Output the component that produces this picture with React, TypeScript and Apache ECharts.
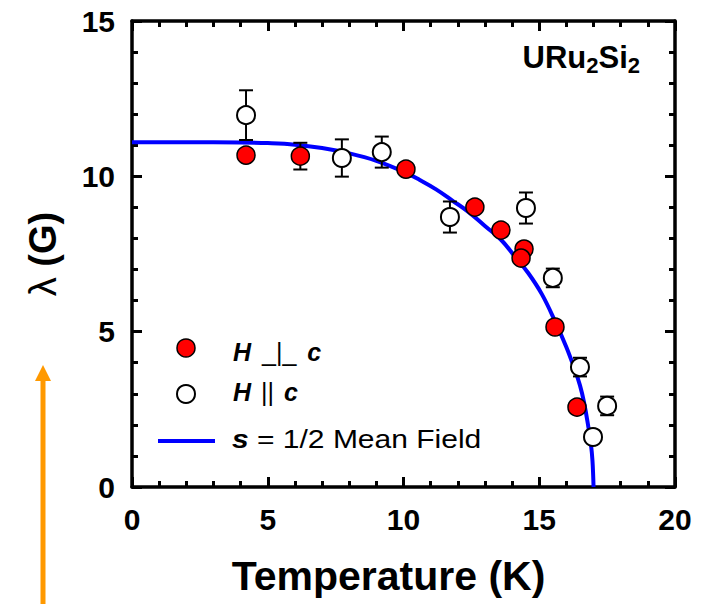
import React, { useEffect, useRef } from "react";
import * as echarts from "echarts";

// H perpendicular to c (filled red)
const perpT = [4.2, 6.2, 10.09, 12.63, 13.59, 14.44, 14.33, 15.58, 16.39];
const perpLambda = [10.68, 10.65, 10.23, 9.01, 8.27, 7.66, 7.37, 5.15, 2.57];
const perpErr = [0.1, 0.43, 0.1, 0.1, 0.1, 0.1, 0.1, 0.1, 0.1];

// H parallel to c (open)
const paraT = [4.2, 7.73, 9.2, 11.71, 14.51, 15.5, 16.5, 17.5, 16.98];
const paraLambda = [11.97, 10.59, 10.78, 8.69, 8.98, 6.73, 3.86, 2.61, 1.61];
const paraErr = [0.8, 0.6, 0.5, 0.5, 0.5, 0.3, 0.3, 0.3, 0.2];

// s = 1/2 mean field curve
const curveT = [0, 2, 4, 5, 6, 7, 8, 9, 10, 10.6, 11.2, 11.8, 12.4, 13.0, 13.6, 14.1, 14.6, 15.1, 15.6, 16.0, 16.3, 16.5, 16.65, 16.8, 16.9, 16.96, 17.0];
const curveLambda = [11.1, 11.1, 11.09, 11.07, 11.02, 10.91, 10.74, 10.5, 10.15, 9.88, 9.58, 9.22, 8.85, 8.4, 7.95, 7.42, 6.88, 6.2, 5.3, 4.5, 3.8, 3.27, 2.72, 1.98, 1.4, 0.85, 0];

const xTicks = { min: 0, max: 20, interval: 5 };
const yTicks = { min: 0, max: 15, interval: 5 };

const FONT = "'Liberation Sans', Arial, Helvetica, sans-serif";

export default function App() {
  const ref = useRef<HTMLDivElement>(null);
  useEffect(() => {
    if (!ref.current) return;
    const chart = echarts.init(ref.current, undefined, { renderer: "svg" });

    const errRender = (params: any, api: any) => {
      const x = api.value(0);
      const lo = api.value(1);
      const hi = api.value(2);
      const a = api.coord([x, lo]);
      const b = api.coord([x, hi]);
      const hw = 7;
      const st = { stroke: "#000", lineWidth: 2 };
      return {
        type: "group",
        children: [
          { type: "line", shape: { x1: a[0], y1: a[1], x2: b[0], y2: b[1] }, style: st },
          { type: "line", shape: { x1: a[0] - hw, y1: a[1], x2: a[0] + hw, y2: a[1] }, style: st },
          { type: "line", shape: { x1: b[0] - hw, y1: b[1], x2: b[0] + hw, y2: b[1] }, style: st },
        ],
      };
    };

    const axisCommon = {
      type: "value",
      axisLine: { show: true, onZero: false, lineStyle: { color: "#000", width: 3.5 } },
      axisTick: { show: true, inside: true, length: 10, lineStyle: { color: "#000", width: 3 } },
      minorTick: { show: true, splitNumber: 5, length: 6, lineStyle: { color: "#000", width: 3 } },
      splitLine: { show: false },
      minorSplitLine: { show: false },
    };

    const option: any = {
      animation: false,
      backgroundColor: "#fff",
      grid: { left: 132, top: 21, right: 32, bottom: 117, containLabel: false },
      xAxis: [
        {
          ...axisCommon,
          ...xTicks,
          position: "bottom",
          axisLabel: { show: true, fontFamily: FONT, fontWeight: "bold", fontSize: 30, color: "#000", margin: 17 },
          name: "Temperature (K)",
          nameLocation: "middle",
          nameGap: 68,
          nameTextStyle: { fontFamily: FONT, fontWeight: "bold", fontSize: 41, color: "#000", padding: [0, 30, 0, 0] },
        },
        { ...axisCommon, ...xTicks, position: "top", axisLabel: { show: false } },
      ],
      yAxis: [
        {
          ...axisCommon,
          ...yTicks,
          position: "left",
          axisLabel: { show: true, fontFamily: FONT, fontWeight: "bold", fontSize: 30, color: "#000", margin: 17 },
          name: "{r|λ }{b|(G)}",
          nameLocation: "middle",
          nameGap: 70,
          nameRotate: 90,
          nameTextStyle: {
            color: "#000",
            rich: {
              r: { fontFamily: FONT, fontSize: 38, color: "#000" },
              b: { fontFamily: FONT, fontSize: 38, fontWeight: "bold", color: "#000" },
            },
          },
        },
        { ...axisCommon, ...yTicks, position: "right", axisLabel: { show: false } },
      ],
      series: [
        {
          type: "line",
          data: curveT.map((t, i) => [t, curveLambda[i]]),
          showSymbol: false,
          smooth: 0.4,
          lineStyle: { color: "#0000FF", width: 4 },
          z: 1,
        },
        {
          type: "custom",
          renderItem: errRender,
          data: perpT.map((t, i) => [t, perpLambda[i] - perpErr[i], perpLambda[i] + perpErr[i]]),
          z: 2,
        },
        {
          type: "custom",
          renderItem: errRender,
          data: paraT.map((t, i) => [t, paraLambda[i] - paraErr[i], paraLambda[i] + paraErr[i]]),
          z: 2,
        },
        {
          type: "scatter",
          data: perpT.map((t, i) => [t, perpLambda[i]]),
          symbol: "circle",
          symbolSize: 18,
          itemStyle: { color: "#FF0000", borderColor: "#000", borderWidth: 1.5, opacity: 1 },
          z: 3,
        },
        {
          type: "scatter",
          data: paraT.map((t, i) => [t, paraLambda[i]]),
          symbol: "circle",
          symbolSize: 18,
          itemStyle: { color: "#FFFFFF", borderColor: "#000", borderWidth: 2, opacity: 1 },
          z: 3,
        },
      ],
      graphic: [
        // compound label
        {
          type: "text",
          x: 640,
          y: 57,
          style: {
            text: "{m|URu}{s|2}{m|Si}{s|2}",
            align: "right",
            verticalAlign: "middle",
            rich: {
              m: { fontFamily: FONT, fontWeight: "bold", fontSize: 31, color: "#000" },
              s: { fontFamily: FONT, fontWeight: "bold", fontSize: 22, color: "#000", padding: [16, 0, 0, 0] },
            },
          },
        },
        // legend
        {
          type: "circle",
          shape: { cx: 186, cy: 348, r: 9 },
          style: { fill: "#FF0000", stroke: "#000", lineWidth: 1.5 },
        },
        {
          type: "text",
          x: 233,
          y: 352,
          style: {
            text: "{bi|H}{n| _|_ }{bi|c}",
            verticalAlign: "middle",
            rich: {
              bi: { fontFamily: FONT, fontWeight: "bold", fontStyle: "italic", fontSize: 25, color: "#000" },
              n: { fontFamily: FONT, fontSize: 25, color: "#000", padding: [0, 4, 0, 4] },
            },
          },
        },
        {
          type: "circle",
          shape: { cx: 186, cy: 394, r: 9 },
          style: { fill: "#FFFFFF", stroke: "#000", lineWidth: 2 },
        },
        {
          type: "text",
          x: 233,
          y: 392,
          style: {
            text: "{bi|H}{n| || }{bi|c}",
            verticalAlign: "middle",
            rich: {
              bi: { fontFamily: FONT, fontWeight: "bold", fontStyle: "italic", fontSize: 25, color: "#000" },
              n: { fontFamily: FONT, fontSize: 25, color: "#000", padding: [0, 3, 0, 3] },
            },
          },
        },
        {
          type: "line",
          shape: { x1: 158, y1: 441, x2: 215, y2: 441 },
          style: { stroke: "#0000FF", lineWidth: 4 },
        },
        {
          type: "text",
          x: 232,
          y: 439,
          scaleX: 1.2,
          style: {
            text: "{bi|s }{n|= 1/2 Mean Field}",
            verticalAlign: "middle",
            rich: {
              bi: { fontFamily: FONT, fontWeight: "bold", fontStyle: "italic", fontSize: 25, color: "#000" },
              n: { fontFamily: FONT, fontSize: 25, color: "#000" },
            },
          },
        },
        // orange arrow
        {
          type: "line",
          shape: { x1: 43, y1: 378, x2: 43, y2: 604 },
          style: { stroke: "#FF9900", lineWidth: 5 },
        },
        {
          type: "polygon",
          shape: { points: [[35, 381], [51, 381], [43, 365]] },
          style: { fill: "#FF9900" },
        },
      ],
    };
    chart.setOption(option);
    return () => chart.dispose();
  }, []);
  return <div ref={ref} style={{ width: 707, height: 604, position: "absolute", left: 0, top: 0 }} />;
}
